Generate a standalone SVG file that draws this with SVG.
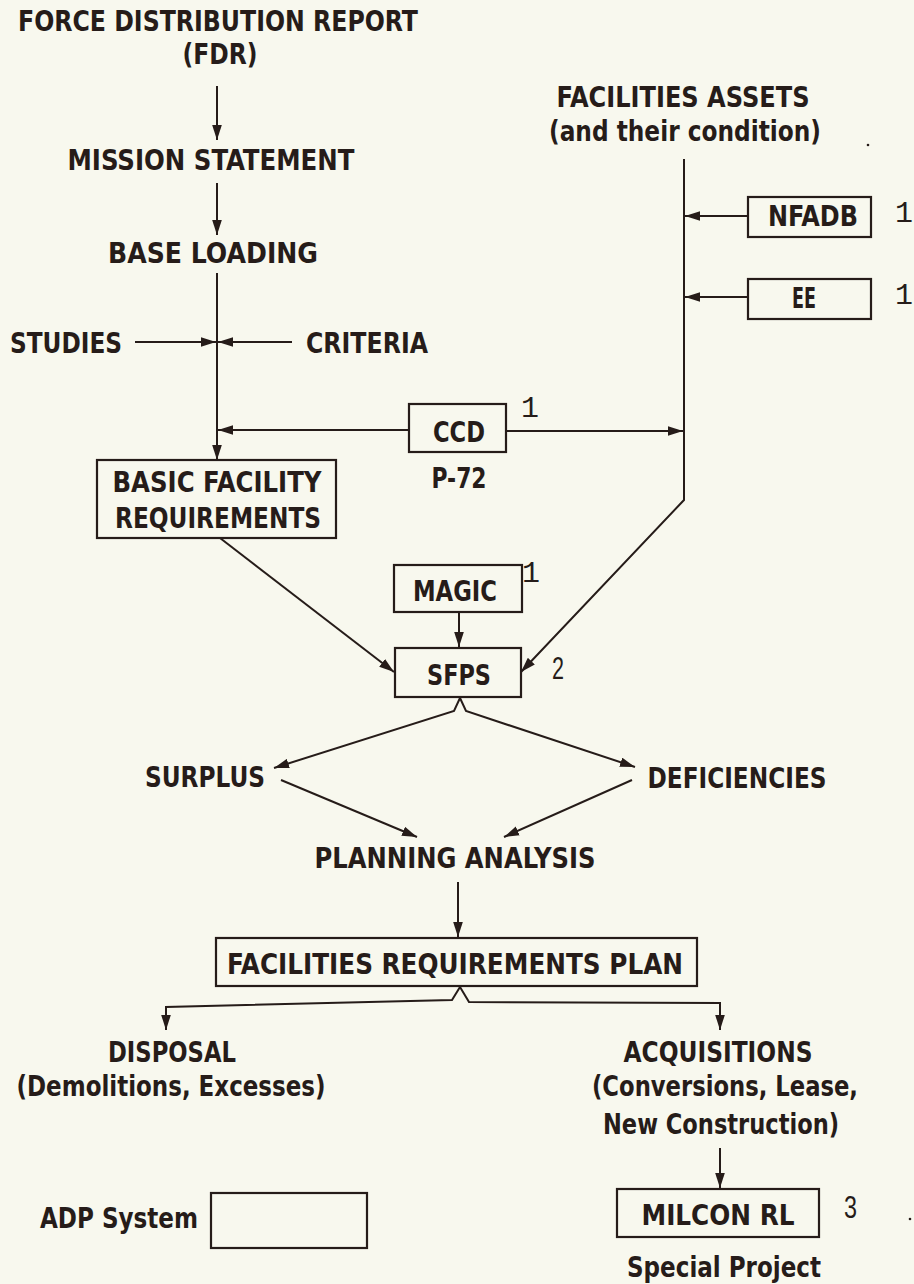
<svg xmlns="http://www.w3.org/2000/svg" width="914" height="1284" viewBox="0 0 914 1284">
<style>
.t{font-family:"Liberation Sans Narrow","DejaVu Sans Condensed","Liberation Sans",sans-serif;font-stretch:condensed;font-weight:bold;font-size:29px;fill:#261c19;text-anchor:middle}
.n{font-family:"Liberation Mono",monospace;font-size:30px;fill:#261c19}
.m{font-family:"Liberation Sans Narrow","Liberation Sans",sans-serif;font-stretch:condensed;font-size:31px;fill:#261c19}
.b{fill:none;stroke:#261c19;stroke-width:2.2}
.c{fill:none;stroke:#261c19;stroke-width:2}
</style>
<defs>
<marker id="ah" viewBox="0 0 14 9" refX="14" refY="4.5" markerWidth="15" markerHeight="10" markerUnits="userSpaceOnUse" orient="auto">
<path d="M0,0 L14,4.5 L0,9 Z" fill="#261c19"/>
</marker>
</defs>
<rect width="914" height="1284" fill="#f8f8ee"/>

<g id="connectors">
<path class="c" d="M217,86 V140" marker-end="url(#ah)"/>
<path class="c" d="M217,183 V235" marker-end="url(#ah)"/>
<path class="c" d="M217,273 V460" marker-end="url(#ah)"/>
<path class="c" d="M135,342 H216" marker-end="url(#ah)"/>
<path class="c" d="M292,342 H218" marker-end="url(#ah)"/>
<path class="c" d="M409,430 H218" marker-end="url(#ah)"/>
<path class="c" d="M506,431 H683" marker-end="url(#ah)"/>
<path class="c" d="M684,159 V500 L521,672" marker-end="url(#ah)"/>
<path class="c" d="M748,216 H685" marker-end="url(#ah)"/>
<path class="c" d="M748,297 H685" marker-end="url(#ah)"/>
<path class="c" d="M220,538 L394,672" marker-end="url(#ah)"/>
<path class="c" d="M459,612 V647" marker-end="url(#ah)"/>
<path class="c" d="M460,698 L454,711 L274,768" marker-end="url(#ah)"/>
<path class="c" d="M460,698 L466,711 L635,767" marker-end="url(#ah)"/>
<path class="c" d="M281,780 L417,837" marker-end="url(#ah)"/>
<path class="c" d="M632,780 L504,837" marker-end="url(#ah)"/>
<path class="c" d="M458,882 V937" marker-end="url(#ah)"/>
<path class="c" d="M460,987 L452,1000 L166,1007 V1030" marker-end="url(#ah)"/>
<path class="c" d="M460,987 L469,1002 L720,1003 V1030" marker-end="url(#ah)"/>
<path class="c" d="M720,1148 V1188" marker-end="url(#ah)"/>
</g>

<g id="fdr">
<text class="t" x="218" y="31" textLength="400" lengthAdjust="spacingAndGlyphs">FORCE DISTRIBUTION REPORT</text>
<text class="t" x="220" y="64" textLength="75" lengthAdjust="spacingAndGlyphs">(FDR)</text>
</g>
<g id="mission"><text class="t" x="211" y="170" textLength="287" lengthAdjust="spacingAndGlyphs">MISSION STATEMENT</text></g>
<g id="baseloading"><text class="t" x="213" y="263" textLength="210" lengthAdjust="spacingAndGlyphs">BASE LOADING</text></g>
<g id="studies"><text class="t" x="66" y="353" textLength="112" lengthAdjust="spacingAndGlyphs">STUDIES</text></g>
<g id="criteria"><text class="t" x="367" y="353" textLength="122" lengthAdjust="spacingAndGlyphs">CRITERIA</text></g>
<g id="assets">
<text class="t" x="683" y="107" textLength="253" lengthAdjust="spacingAndGlyphs">FACILITIES ASSETS</text>
<text class="t" x="685" y="141" textLength="272" lengthAdjust="spacingAndGlyphs">(and their condition)</text>
</g>
<g id="nfadb">
<rect class="b" x="748" y="197" width="123" height="40"/>
<text class="t" x="813" y="226" textLength="90" lengthAdjust="spacingAndGlyphs">NFADB</text>
<text class="n" x="895" y="222">1</text>
</g>
<g id="ee">
<rect class="b" x="748" y="279" width="123" height="40"/>
<text class="t" x="804" y="308" textLength="24" lengthAdjust="spacingAndGlyphs">EE</text>
<text class="n" x="895" y="304">1</text>
</g>
<g id="ccd">
<rect class="b" x="409" y="404" width="97" height="48"/>
<text class="t" x="459" y="442" textLength="52" lengthAdjust="spacingAndGlyphs">CCD</text>
<text class="n" x="521" y="417">1</text>
<text class="t" x="459" y="488" textLength="55" lengthAdjust="spacingAndGlyphs">P-72</text>
</g>
<g id="basic">
<rect class="b" x="97" y="460" width="239" height="78"/>
<text class="t" x="217" y="492" textLength="209" lengthAdjust="spacingAndGlyphs">BASIC FACILITY</text>
<text class="t" x="218" y="528" textLength="206" lengthAdjust="spacingAndGlyphs">REQUIREMENTS</text>
</g>
<g id="magic">
<rect class="b" x="394" y="565" width="128" height="47"/>
<text class="t" x="455" y="601" textLength="84" lengthAdjust="spacingAndGlyphs">MAGIC</text>
<text class="n" x="522" y="582">1</text>
</g>
<g id="sfps">
<rect class="b" x="395" y="648" width="126" height="49"/>
<text class="t" x="459" y="685" textLength="64" lengthAdjust="spacingAndGlyphs">SFPS</text>
<text class="m" x="552" y="679" textLength="12" lengthAdjust="spacingAndGlyphs">2</text>
</g>
<g id="surplus"><text class="t" x="205" y="787" textLength="120" lengthAdjust="spacingAndGlyphs">SURPLUS</text></g>
<g id="deficiencies"><text class="t" x="737" y="788" textLength="179" lengthAdjust="spacingAndGlyphs">DEFICIENCIES</text></g>
<g id="planning"><text class="t" x="455" y="868" textLength="281" lengthAdjust="spacingAndGlyphs">PLANNING ANALYSIS</text></g>
<g id="frp">
<rect class="b" x="216" y="938" width="481" height="48"/>
<text class="t" x="455" y="974" textLength="456" lengthAdjust="spacingAndGlyphs">FACILITIES REQUIREMENTS PLAN</text>
</g>
<g id="disposal">
<text class="t" x="172" y="1062" textLength="128" lengthAdjust="spacingAndGlyphs">DISPOSAL</text>
<text class="t" x="171" y="1096" textLength="309" lengthAdjust="spacingAndGlyphs">(Demolitions, Excesses)</text>
</g>
<g id="acquisitions">
<text class="t" x="718" y="1062" textLength="189" lengthAdjust="spacingAndGlyphs">ACQUISITIONS</text>
<text class="t" x="725" y="1096" textLength="266" lengthAdjust="spacingAndGlyphs">(Conversions, Lease,</text>
<text class="t" x="721" y="1134" textLength="236" lengthAdjust="spacingAndGlyphs">New Construction)</text>
</g>
<g id="milcon">
<rect class="b" x="617" y="1189" width="202" height="48"/>
<text class="t" x="718" y="1225" textLength="153" lengthAdjust="spacingAndGlyphs">MILCON RL</text>
<text class="m" x="844" y="1218" textLength="13" lengthAdjust="spacingAndGlyphs">3</text>
<text class="t" x="724" y="1277" textLength="194" lengthAdjust="spacingAndGlyphs">Special Project</text>
</g>
<g id="adp">
<text class="t" x="119" y="1228" textLength="158" lengthAdjust="spacingAndGlyphs">ADP System</text>
<rect class="b" x="211" y="1193" width="156" height="55"/>
</g>
<circle cx="868" cy="145" r="1.3" fill="#261c19"/>
<circle cx="910" cy="1219" r="1.3" fill="#261c19"/>
</svg>
